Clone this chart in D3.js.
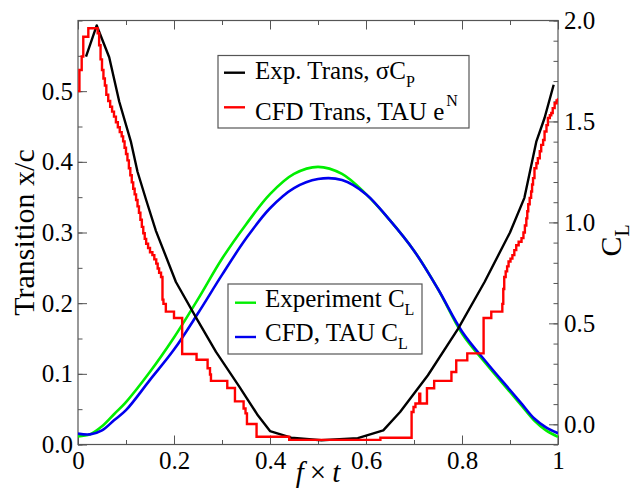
<!DOCTYPE html>
<html><head><meta charset="utf-8">
<script src="https://cdn.jsdelivr.net/npm/d3@7"></script>
<style>body{margin:0;background:#fff} text{font-family:"Liberation Serif","Times New Roman",serif}</style>
</head><body><svg id="c" width="638" height="497"></svg>
<script>
// ---------- data ----------
const xTicks = [0, 0.2, 0.4, 0.6, 0.8, 1];
const xTickLabels = ["0", "0.2", "0.4", "0.6", "0.8", "1"];
const yLeftTicks = [0, 0.1, 0.2, 0.3, 0.4, 0.5];
const yLeftLabels = ["0.0", "0.1", "0.2", "0.3", "0.4", "0.5"];
const yRightTicks = [0, 0.5, 1.0, 1.5, 2.0];
const yRightLabels = ["0.0", "0.5", "1.0", "1.5", "2.0"];

const clX   = [0, 0.025, 0.05, 0.075, 0.1, 0.15, 0.2, 0.25, 0.3, 0.35, 0.4, 0.45, 0.5, 0.55, 0.6, 0.65, 0.7, 0.75, 0.8, 0.85, 0.9, 0.925, 0.95, 0.975, 1.0];
const clExp = [-0.06, -0.05, -0.01, 0.05, 0.11, 0.26, 0.43, 0.62, 0.82, 0.99, 1.14, 1.24, 1.275, 1.24, 1.14, 1.01, 0.86, 0.67, 0.45, 0.30, 0.16, 0.09, 0.02, -0.03, -0.062];
const clCfd = [-0.046, -0.05, -0.03, 0.02, 0.07, 0.22, 0.37, 0.55, 0.74, 0.92, 1.07, 1.17, 1.215, 1.21, 1.14, 1.01, 0.86, 0.67, 0.46, 0.31, 0.17, 0.10, 0.03, -0.015, -0.044];

const expTransX = [0.0167, 0.039, 0.065, 0.086, 0.110, 0.124, 0.142, 0.1625, 0.204, 0.249, 0.2875, 0.336, 0.375, 0.400, 0.444, 0.507, 0.583, 0.636, 0.671, 0.729, 0.792, 0.847, 0.900, 0.930, 0.955, 0.972, 0.991];
const expTransY = [0.549, 0.593, 0.548, 0.485, 0.429, 0.386, 0.346, 0.302, 0.230, 0.176, 0.131, 0.082, 0.041, 0.019, 0.0096, 0.006, 0.009, 0.020, 0.046, 0.098, 0.164, 0.230, 0.300, 0.349, 0.429, 0.462, 0.509];

const cfdTransX = [0, 0.003, 0.0077, 0.011, 0.0215, 0.041, 0.044, 0.047, 0.050, 0.053, 0.056, 0.059, 0.063, 0.067, 0.071, 0.075, 0.079, 0.083, 0.087, 0.091, 0.094, 0.097, 0.100, 0.103, 0.106, 0.109, 0.112, 0.115, 0.118, 0.121, 0.124, 0.127, 0.130, 0.133, 0.136, 0.139, 0.142, 0.146, 0.150, 0.155, 0.159, 0.163, 0.166, 0.169, 0.173, 0.176, 0.178, 0.183, 0.200, 0.217, 0.247, 0.270, 0.275, 0.277, 0.311, 0.327, 0.345, 0.349, 0.352, 0.372, 0.440, 0.630, 0.695, 0.699, 0.703, 0.711, 0.713, 0.727, 0.742, 0.778, 0.788, 0.811, 0.845, 0.861, 0.884, 0.886, 0.888, 0.891, 0.894, 0.897, 0.901, 0.905, 0.909, 0.913, 0.918, 0.924, 0.928, 0.931, 0.934, 0.936, 0.938, 0.941, 0.944, 0.946, 0.948, 0.951, 0.955, 0.958, 0.962, 0.965, 0.969, 0.972, 0.976, 0.979, 0.983, 0.986, 0.989, 0.993, 0.997, 1.0];
const cfdTransY = [0.50, 0.53, 0.549, 0.577, 0.589, 0.582, 0.565, 0.545, 0.53, 0.518, 0.508, 0.495, 0.486, 0.478, 0.471, 0.464, 0.456, 0.449, 0.442, 0.436, 0.429, 0.42, 0.411, 0.402, 0.391, 0.381, 0.371, 0.362, 0.354, 0.346, 0.337, 0.328, 0.318, 0.308, 0.299, 0.291, 0.284, 0.278, 0.272, 0.268, 0.262, 0.256, 0.249, 0.243, 0.237, 0.205, 0.199, 0.188, 0.179, 0.128, 0.12, 0.108, 0.099, 0.09, 0.08, 0.061, 0.051, 0.044, 0.029, 0.011, 0.0065, 0.0095, 0.046, 0.053, 0.058, 0.072, 0.058, 0.0795, 0.090, 0.1025, 0.119, 0.129, 0.179, 0.188, 0.199, 0.220, 0.237, 0.245, 0.252, 0.259, 0.263, 0.268, 0.275, 0.282, 0.287, 0.292, 0.30, 0.31, 0.32, 0.33, 0.34, 0.349, 0.358, 0.368, 0.377, 0.391, 0.398, 0.405, 0.415, 0.424, 0.431, 0.443, 0.452, 0.462, 0.466, 0.469, 0.476, 0.483, 0.487, 0.49];

// ---------- layout ----------
const L = 78, R = 558, T = 20.5, B = 444.5;
const svg = d3.select("#c");
const x = d3.scaleLinear().domain([0, 1]).range([L, R]);
const yL = d3.scaleLinear().domain([0, 0.6]).range([B, T]);
const yR = d3.scaleLinear().domain([-0.1, 2.0]).range([B, T]);
const axisColor = "#555";
const FS = 25;

function styleAxis(g) {
  g.selectAll("path.domain").remove();
  g.selectAll(".tick line").attr("stroke", axisColor).attr("stroke-width", 1);
  g.selectAll(".tick text").attr("fill", "#000").style("font-size", FS + "px").style("font-family", '"Liberation Serif",serif');
}

// minor ticks
const minorX = d3.range(0, 1.0001, 0.1);
const minorL = d3.range(0, 0.6001, 0.05);
const minorR = d3.range(-0.1, 2.0001, 0.1);

svg.append("g").attr("transform", `translate(0,${B})`)
  .call(d3.axisBottom(x).tickValues(minorX).tickSize(-4.5).tickFormat("")).call(styleAxis);
svg.append("g").attr("transform", `translate(0,${T})`)
  .call(d3.axisTop(x).tickValues(minorX).tickSize(-4.5).tickFormat("")).call(styleAxis);
svg.append("g").attr("transform", `translate(${L},0)`)
  .call(d3.axisLeft(yL).tickValues(minorL).tickSize(-4.5).tickFormat("")).call(styleAxis);
svg.append("g").attr("transform", `translate(${R},0)`)
  .call(d3.axisRight(yR).tickValues(minorR).tickSize(-4.5).tickFormat("")).call(styleAxis);

// major ticks
svg.append("g").attr("transform", `translate(0,${B})`)
  .call(d3.axisBottom(x).tickValues(xTicks).tickSize(-9).tickPadding(7).tickFormat((d, i) => xTickLabels[i])).call(styleAxis);
svg.append("g").attr("transform", `translate(0,${T})`)
  .call(d3.axisTop(x).tickValues(xTicks).tickSize(-9).tickFormat("")).call(styleAxis);
svg.append("g").attr("transform", `translate(${L},0)`)
  .call(d3.axisLeft(yL).tickValues(yLeftTicks).tickSize(-9).tickPadding(5).tickFormat((d, i) => yLeftLabels[i])).call(styleAxis);
svg.append("g").attr("transform", `translate(${R},0)`)
  .call(d3.axisRight(yR).tickValues(yRightTicks).tickSize(-9).tickPadding(6).tickFormat((d, i) => yRightLabels[i])).call(styleAxis);

// frame
svg.append("rect").attr("x", L).attr("y", T).attr("width", R - L).attr("height", B - T)
  .attr("fill", "none").attr("stroke", axisColor).attr("stroke-width", 1.2);

// clip
svg.append("clipPath").attr("id", "clip").append("rect")
  .attr("x", L).attr("y", T - 2).attr("width", R - L).attr("height", B - T + 4);
const plot = svg.append("g").attr("clip-path", "url(#clip)");

// series
const lineR = d3.line().x(d => x(d[0])).y(d => yR(d[1])).curve(d3.curveCatmullRom);
plot.append("path").datum(clX.map((v, i) => [v, clExp[i]])).attr("d", lineR)
  .attr("fill", "none").attr("stroke", "#00ee00").attr("stroke-width", 2.6);
plot.append("path").datum(clX.map((v, i) => [v, clCfd[i]])).attr("d", lineR)
  .attr("fill", "none").attr("stroke", "#0000ee").attr("stroke-width", 2.6);

const lineExp = d3.line().x(d => x(d[0])).y(d => yL(d[1])).curve(d3.curveLinear);
plot.append("path").datum(expTransX.map((v, i) => [v, expTransY[i]])).attr("d", lineExp)
  .attr("fill", "none").attr("stroke", "#000").attr("stroke-width", 2.4).attr("stroke-linejoin", "round");

const lineCfd = d3.line().x(d => x(d[0])).y(d => yL(d[1])).curve(d3.curveStepAfter);
plot.append("path").datum(cfdTransX.map((v, i) => [v, cfdTransY[i]])).attr("d", lineCfd)
  .attr("fill", "none").attr("stroke", "#ff0000").attr("stroke-width", 2.4);

// axis titles
svg.append("text").attr("transform", `translate(34,${(T + B) / 2}) rotate(-90)`)
  .attr("text-anchor", "middle").style("font-size", "30px").text("Transition x/c");

const rt = svg.append("text").attr("transform", `translate(621,${(T + B) / 2 + 8}) rotate(-90)`)
  .attr("text-anchor", "middle").style("font-size", "30px");
rt.append("tspan").text("C");
rt.append("tspan").attr("dy", 8).style("font-size", "20px").text("L");

const xt = svg.append("text").attr("x", 318).attr("y", 482).attr("text-anchor", "middle").style("font-size", "29px");
xt.append("tspan").style("font-style", "italic").text("f");
xt.append("tspan").attr("dx", 6).text("×");
xt.append("tspan").attr("dx", 6).style("font-style", "italic").text("t");

// legends
function legendBox(x0, y0, w, h) {
  svg.append("rect").attr("x", x0).attr("y", y0).attr("width", w).attr("height", h)
    .attr("fill", "#fff").attr("stroke", axisColor).attr("stroke-width", 1.2);
}
function entry(lx, ly, color, tx, ty, main, sub, sup) {
  svg.append("line").attr("x1", lx).attr("x2", lx + 21).attr("y1", ly).attr("y2", ly)
    .attr("stroke", color).attr("stroke-width", 2.4);
  const t = svg.append("text").attr("x", tx).attr("y", ty).style("font-size", FS + "px");
  t.append("tspan").text(main);
  if (sub) t.append("tspan").attr("dy", 8).style("font-size", "16px").text(sub);
  if (sup) t.append("tspan").attr("dx", 2).attr("dy", -14).style("font-size", "16px").text(sup);
}
legendBox(218, 55.5, 251, 72.5);
entry(224, 72.7, "#000", 255, 78.5, "Exp. Trans, σC", "P", null);
entry(224, 107.3, "#ff0000", 255, 120, "CFD Trans, TAU e", null, "N");

legendBox(228, 284, 194, 70);
entry(235, 302.7, "#00ee00", 265, 307, "Experiment C", "L", null);
entry(235, 337, "#0000ee", 265, 341, "CFD, TAU C", "L", null);
</script></body></html>
